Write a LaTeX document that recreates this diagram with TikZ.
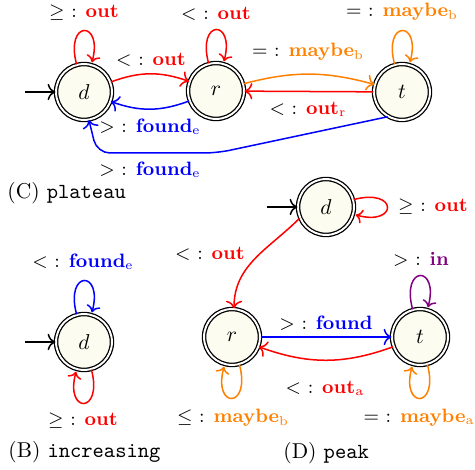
\documentclass[tikz,border=0pt]{standalone}
\usetikzlibrary{arrows.meta}
\definecolor{statefill}{RGB}{252,252,240}
\definecolor{myorange}{RGB}{255,128,0}
\definecolor{mypurple}{RGB}{128,0,128}
\begin{document}
\begin{tikzpicture}[x=0.4651pt,y=-0.4651pt,
  st/.style={circle, draw=black, line width=0.6pt, double=white, double distance=0.9pt,
    fill=statefill, minimum size=26pt, inner sep=0pt},
  e/.style={-{To[scale=1.15]}, line width=0.7pt},
  lbl/.style={inner sep=0pt, font=\small},
  captext/.style={inner sep=0pt, anchor=west}]
\useasboundingbox (0,0) rectangle (475,470);

% ---------- (C) plateau ----------
\node[st] (dC) at (84,92) {$d$};
\node[st] (rC) at (216,91) {$r$};
\node[st] (tC) at (402,92) {$t$};
\coordinate (iC) at (25,92);
\draw[e] (iC) -- (dC);
\path (dC) edge[e, red, loop above] (dC)
      (rC) edge[e, red, loop above] (rC)
      (tC) edge[e, myorange, loop above] (tC)
      (dC) edge[e, red, bend left=20] (rC)
      (rC) edge[e, blue, bend left=20] (dC)
      (rC) edge[e, myorange, bend left=15] (tC)
      (tC) edge[e, red] (rC);
\draw[e, blue, rounded corners=6pt] (tC.-120) -- (217,153) -- (97,153) -- (dC.-80);
\node[lbl] (lC1) at (84,13) {$\geq$ : \textcolor{red}{\textbf{out}}};
\node[lbl] (lC2) at (216,14) {$<$ : \textcolor{red}{\textbf{out}}};
\node[lbl] (lC3) at (402,12) {$=$ : \textcolor{myorange}{\textbf{maybe}$_\mathrm{b}$}};
\node[lbl] (lC4) at (151,60) {$<$ : \textcolor{red}{\textbf{out}}};
\node[lbl] (lC5) at (150,127) {$>$ : \textcolor{blue}{\textbf{found}$_\mathrm{e}$}};
\node[lbl] (lC6) at (308,52) {$=$ : \textcolor{myorange}{\textbf{maybe}$_\mathrm{b}$}};
\node[lbl] (lC7) at (308,109) {$<$ : \textcolor{red}{\textbf{out}$_\mathrm{r}$}};
\node[lbl] (lC8) at (150,170) {$>$ : \textcolor{blue}{\textbf{found}$_\mathrm{e}$}};
\node[captext] (capC) at (7,193) {(C) \texttt{plateau}};

% ---------- (B) increasing ----------
\node[st] (dB) at (84,342) {$d$};
\coordinate (iB) at (25,342);
\draw[e] (iB) -- (dB);
\path (dB) edge[e, blue, loop above] (dB)
      (dB) edge[e, red, loop below] (dB);
\node[lbl] (lB1) at (83,262) {$<$ : \textcolor{blue}{\textbf{found}$_\mathrm{e}$}};
\node[lbl] (lB2) at (83,421) {$\geq$ : \textcolor{red}{\textbf{out}}};
\node[captext] (capB) at (8,452) {(B) \texttt{increasing}};

% ---------- (D) peak ----------
\node[st] (dD) at (326,207) {$d$};
\node[st] (rD) at (232,337) {$r$};
\node[st] (tD) at (420,337) {$t$};
\coordinate (iD) at (267,207);
\draw[e] (iD) -- (dD);
\path (dD) edge[e, red, loop right] (dD)
      (tD) edge[e, mypurple, loop above] (tD)
      (rD) edge[e, myorange, loop below] (rD)
      (tD) edge[e, myorange, loop below] (tD)
      (dD.203) edge[e, red, out=225, in=90] (rD.86)
      (rD) edge[e, blue] (tD)
      (tD) edge[e, red, bend left=20] (rD);
\node[lbl] (lD1) at (433,207) {$\geq$ : \textcolor{red}{\textbf{out}}};
\node[lbl] (lD2) at (210,254) {$<$ : \textcolor{red}{\textbf{out}}};
\node[lbl] (lD3) at (326,323) {$>$ : \textcolor{blue}{\textbf{found}}};
\node[lbl] (lD4) at (325,388) {$<$ : \textcolor{red}{\textbf{out}$_\mathrm{a}$}};
\node[lbl] (lD5) at (421,259) {$>$ : \textcolor{mypurple}{\textbf{in}}};
\node[lbl] (lD6) at (233,418) {$\leq$ : \textcolor{myorange}{\textbf{maybe}$_\mathrm{b}$}};
\node[lbl] (lD7) at (419,418) {$=$ : \textcolor{myorange}{\textbf{maybe}$_\mathrm{a}$}};
\node[captext] (capD) at (283,453) {(D) \texttt{peak}};
\end{tikzpicture}
\end{document}
